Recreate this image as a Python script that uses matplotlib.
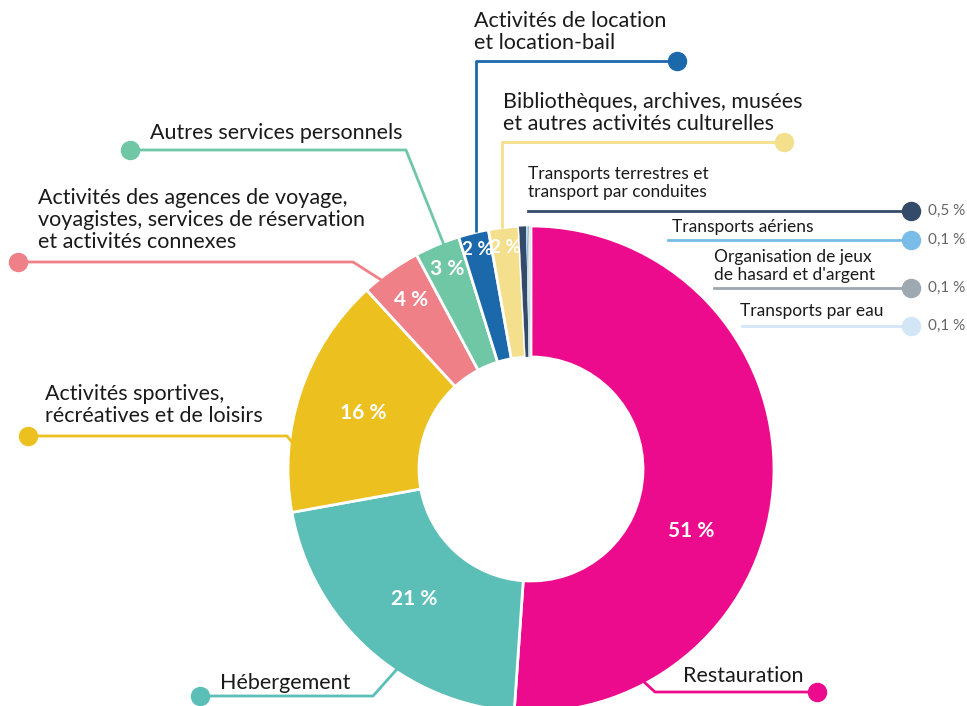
import matplotlib
matplotlib.use("Agg")
import matplotlib.pyplot as plt
import numpy as np

# Données
secteurs = [
    "Restauration",
    "Hébergement",
    "Activités sportives,\nrécréatives et de loisirs",
    "Activités des agences de voyage,\nvoyagistes, services de réservation\net activités connexes",
    "Autres services personnels",
    "Activités de location\net location-bail",
    "Bibliothèques, archives, musées\net autres activités culturelles",
    "Transports terrestres et\ntransport par conduites",
    "Transports aériens",
    "Organisation de jeux\nde hasard et d'argent",
    "Transports par eau",
]
parts = [51, 21, 16, 4, 3, 2, 2, 0.5, 0.1, 0.1, 0.1]
etiquettes = ["51 %", "21 %", "16 %", "4 %", "3 %", "2 %", "2 %", "0,5 %", "0,1 %", "0,1 %", "0,1 %"]
couleurs = ["#EC0B8D", "#5BBFB8", "#ECC11F", "#F08088", "#6FC7A5", "#1B69AA",
            "#F4E08C", "#344A69", "#7ABCE8", "#9EA8B0", "#D3E6F5"]

W, H = 967, 706
fig = plt.figure(figsize=(W / 100, H / 100), dpi=100)
ax = fig.add_axes([0, 0, 1, 1])

police = "Lato"
texte = "#1a1a1a"

def Y(y):
    # coordonnées pixel (haut = 0) vers coordonnées des données
    return H - y

cx, cy, r, ep = 531, 469, 243, 131
wedges, _ = ax.pie(parts, colors=couleurs, startangle=90, counterclock=False,
                   radius=r, center=(cx, Y(cy)),
                   wedgeprops=dict(width=ep, edgecolor="white", linewidth=2))
for w, p in zip(wedges, parts):
    if p < 1:
        w.set_linewidth(0.3)

# le camembert impose ses propres limites : on les remet après
ax.set_xlim(0, W)
ax.set_ylim(0, H)
ax.set_aspect("equal")
ax.axis("off")

# pourcentages dans l'anneau
total = sum(parts)
cumul = 0
rayons = [172, 175, 177, 207, 217, 226, 223]
for i in range(7):
    mid = 90 - (cumul + parts[i] / 2) / total * 360
    cumul += parts[i]
    if i == 0:
        mid = -21
    x = cx + rayons[i] * np.cos(np.radians(mid))
    y = Y(cy) + rayons[i] * np.sin(np.radians(mid))
    taille = 15 if i < 5 else 13.5
    ax.text(x, y, etiquettes[i], color="white", fontsize=taille, fontweight="bold",
            family=police, ha="center", va="center")

# lignes de rappel des grands secteurs: (points du trait), position du texte
rappels = [
    ([(817, 692), (655, 692), (643, 681)], (683, 676)),
    ([(200, 696), (373, 696), (398, 668)], (220, 683)),
    ([(28, 436), (287, 436), (296, 447)], (45, 405)),
    ([(18, 262), (353, 262), (386, 283)], (38, 220)),
    ([(130, 150), (406, 150), (444, 245)], (150, 133)),
    ([(677, 61), (476, 61), (476, 232)], (474, 32)),
    ([(784, 142), (502, 142), (502, 228)], (503, 113)),
]
for i, (pts, (tx, ty)) in enumerate(rappels):
    xs = [p[0] for p in pts]
    ys = [Y(p[1]) for p in pts]
    ax.plot(xs, ys, color=couleurs[i], lw=2, solid_capstyle="butt", zorder=1)
    ax.plot(xs[0], ys[0], "o", color=couleurs[i], ms=13, zorder=3)
    ax.text(tx, Y(ty), secteurs[i], color=texte, fontsize=15.5, family=police,
            ha="left", va="center", linespacing=1.1)

# petits secteurs à droite
petits = [
    (528, 211, (528, 183)),
    (668, 240, (672, 227)),
    (714, 288, (714, 266)),
    (742, 326, (740, 311)),
]
for k, (x0, yl, (tx, ty)) in enumerate(petits):
    i = 7 + k
    ax.plot([x0, 911], [Y(yl), Y(yl)], color=couleurs[i], lw=2, zorder=1)
    ax.plot(911, Y(yl), "o", color=couleurs[i], ms=13, zorder=3)
    ax.text(tx, Y(ty), secteurs[i], color=texte, fontsize=12.5, family=police,
            ha="left", va="center", linespacing=1.1)
    ax.text(928, Y(yl), etiquettes[i], color="#666666", fontsize=11, family=police,
            ha="left", va="center")

fig.savefig("out.png", dpi=100)
